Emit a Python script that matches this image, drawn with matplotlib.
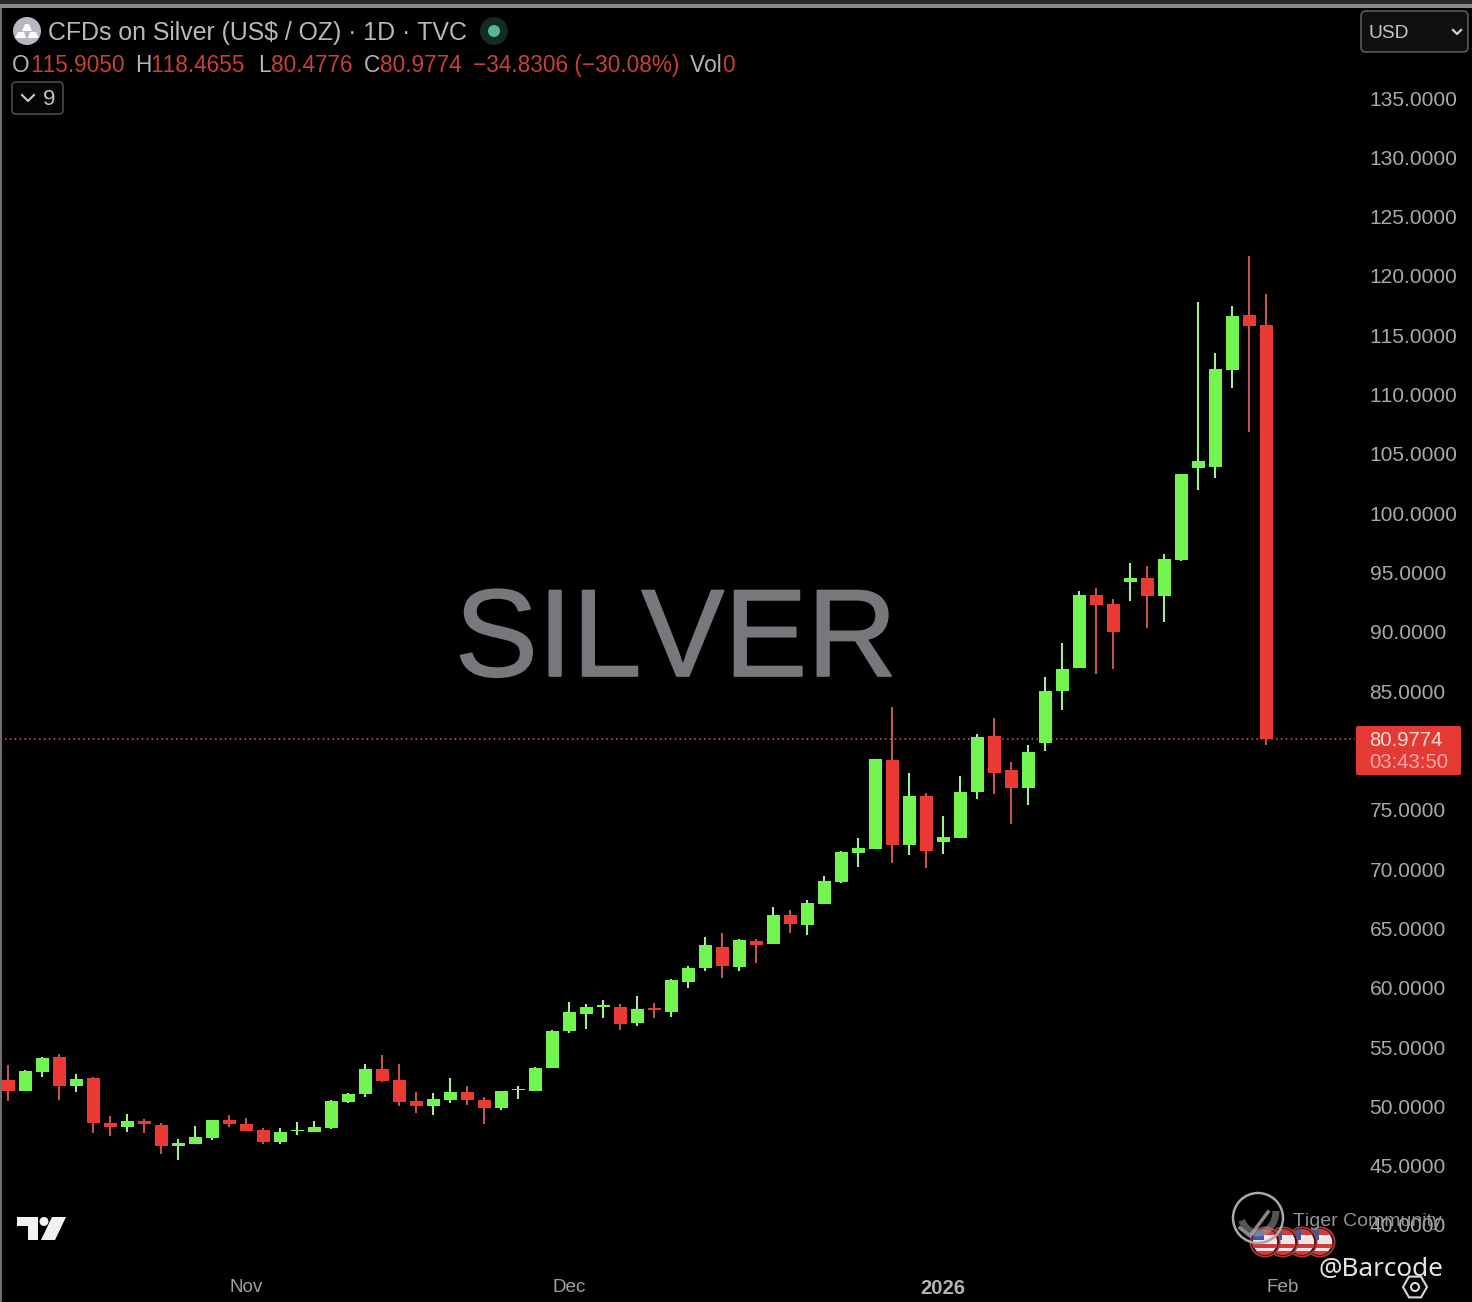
import math
import matplotlib
matplotlib.use("Agg")
import matplotlib.pyplot as plt
import matplotlib.patheffects as pe
from matplotlib.patches import Circle, Rectangle, FancyBboxPatch, Polygon, RegularPolygon, Arc

plt.rcParams['font.family'] = ['Liberation Sans', 'DejaVu Sans']
plt.rcParams['text.kerning_factor'] = 6

opens = [52.22,51.31,52.92,54.18,51.71,52.36,48.62,48.28,48.76,48.40,46.68,46.85,47.35,48.82,48.51,
         47.98,46.99,47.89,47.86,48.14,50.39,51.01,53.17,52.22,50.47,50.02,50.56,51.20,50.50,49.88,
         51.35,51.29,53.23,56.37,57.75,58.34,58.40,57.00,58.26,57.95,60.48,61.68,63.43,61.77,63.96,
         63.66,66.10,65.31,67.08,68.91,71.38,71.71,79.19,72.05,76.16,72.30,72.64,76.52,81.19,78.32,
         76.86,80.65,85.03,86.92,93.08,92.34,94.22,94.53,93.02,96.05,103.81,103.87,112.07,116.71,115.905]
closes = [51.31,52.97,54.10,51.71,52.27,48.57,48.28,48.73,48.48,46.68,46.93,47.39,48.82,48.48,47.94,
          46.99,47.86,48.03,48.25,50.42,51.06,53.14,52.13,50.36,50.02,50.59,51.20,50.50,49.83,51.26,
          51.48,53.23,56.35,57.92,58.37,58.51,56.94,58.20,58.14,60.62,61.63,63.57,61.83,64.02,63.57,
          66.10,65.34,67.11,68.99,71.41,71.75,79.25,72.05,76.16,71.50,72.73,76.49,81.13,78.07,76.86,
          79.84,85.01,86.86,93.13,92.28,90.01,94.53,93.04,96.14,103.28,104.40,112.13,116.62,115.75,80.9774]
highs = [53.48,53.06,54.15,54.41,52.72,52.47,49.18,49.35,48.93,48.57,47.22,48.34,48.84,49.27,48.99,
         48.14,48.17,48.70,48.78,50.53,51.15,53.56,54.32,53.54,51.23,51.09,52.36,51.74,50.76,51.31,
         51.71,53.29,56.43,58.79,58.60,58.93,58.62,59.30,58.68,60.73,61.85,64.24,64.58,64.10,64.10,
         66.83,66.55,67.39,69.41,71.52,72.62,79.30,83.69,78.07,76.38,74.47,77.84,81.38,82.71,79.00,
         80.46,86.16,89.03,93.46,93.72,92.74,95.82,95.57,96.53,103.33,117.78,113.48,117.46,121.68,118.4655]
lows = [50.45,51.29,52.47,50.53,51.23,47.77,47.50,47.86,47.75,45.98,45.47,46.82,47.16,48.28,47.92,
        46.82,46.82,47.58,47.86,48.11,50.25,50.81,52.05,50.02,49.46,49.27,50.30,50.13,48.51,49.69,
        50.61,51.26,53.23,56.15,56.52,57.47,56.43,56.79,57.47,57.50,60.00,61.43,60.79,61.43,62.10,
        63.66,64.58,64.44,67.08,68.80,70.15,71.68,70.48,71.18,70.06,71.24,72.64,75.90,76.30,73.80,
        75.40,79.95,83.41,86.92,86.44,86.84,92.62,90.34,90.80,96.00,101.95,102.99,110.53,106.87,80.4776]

price_ticks = [135, 130, 125, 120, 115, 110, 105, 100, 95, 90, 85, 75, 70, 65, 60, 55, 50, 45, 40]
date_ticks = [14, 33, 55, 75]
date_labels = ['Nov', 'Dec', '2026', 'Feb']
last_close = 80.9774

UP, DOWN = '#72f550', '#ea3a33'
UP_WICK, DOWN_WICK = '#a8eb96', '#c0544e'
W, H = 1472, 1302

fig = plt.figure(figsize=(W/100, H/100), dpi=100, facecolor='black')
# chart pane: x 0..1355 px, y 8..1272 px
ax = fig.add_axes([0, 1-1272/H, 1355/W, (1272-8)/H], facecolor='black')
ax.set_xlim(-8/17, (1355-8)/17)
ax.set_ylim(135-(1272-98)/11.863, 135+(98-8)/11.863)
for s in ax.spines.values():
    s.set_visible(False)

xs = list(range(len(opens)))
for i in xs:
    up = closes[i] >= opens[i]
    ax.vlines(i, lows[i], highs[i], color=UP_WICK if up else DOWN_WICK, lw=1.5, zorder=2)
    lo, hi = min(opens[i], closes[i]), max(opens[i], closes[i])
    ax.bar(i, hi-lo, bottom=lo, width=13/17, color=UP if up else DOWN, zorder=3, linewidth=0)

ax.axhline(last_close, color='#d8604f', lw=1.1, ls=(0, (1, 2.2)), zorder=1)

ax.yaxis.tick_right()
ax.set_yticks(price_ticks, [f'{p:.4f}' for p in price_ticks])
ax.tick_params(axis='y', length=0, pad=10.5, labelsize=15.1, labelcolor='#a9a9ab')
ax.set_xticks(date_ticks, date_labels)
ax.tick_params(axis='x', length=0, pad=5, labelsize=13.6, labelcolor='#a0a0a2')
ax.get_xticklabels()[2].set_fontweight('bold')
ax.get_xticklabels()[2].set_fontsize(14.6)
ax.get_xticklabels()[2].set_color('#b4b4b6')

# overlay in pixel coordinates for the interface furniture
ov = fig.add_axes([0, 0, 1, 1], facecolor='none', zorder=5)
ov.set_xlim(0, W); ov.set_ylim(H, 0); ov.axis('off')

ov.add_patch(Rectangle((0, 0), W, 4, fc='#2b2b2d', lw=0))
ov.add_patch(Rectangle((0, 4), W, 4, fc='#8b8b8d', lw=0))
ov.add_patch(Rectangle((0, 8), 2, H-8, fc='#6f6f72', lw=0))

# header
ov.add_patch(Circle((27, 31), 14, fc='#b9b7c4', lw=0))
ov.add_patch(Polygon([(22, 31), (32, 31), (29, 24), (25, 24)], fc='white', lw=0))
ov.add_patch(Polygon([(15, 38), (26, 38), (24, 32), (18, 32)], fc='white', lw=0))
ov.add_patch(Polygon([(28, 38), (39, 38), (36, 32), (30, 32)], fc='white', lw=0))
ov.text(48, 33, 'CFDs on Silver (US$ / OZ) · 1D · TVC', color='#b9b9bd', fontsize=17.9, va='center', ha='left')
ov.add_patch(Circle((494, 31), 14, fc='#142a25', lw=0))
ov.add_patch(Circle((494, 31), 6, fc='#55b79a', lw=0))

RED, GREY = '#c93f39', '#b4b4b8'
for x, s, c in [(12, 'O', GREY), (30, '115.9050', RED), (135, 'H', GREY), (150, '118.4655', RED),
                (258, 'L', GREY), (271, '80.4776', RED), (364, 'C', GREY), (380, '80.9774', RED),
                (473, '−34.8306 (−30.08%)', RED), (690, 'Vol', GREY), (722, '0', RED)]:
    ov.text(x, 65.5, s, color=c, fontsize=16.3, va='center', ha='left')

ov.add_patch(FancyBboxPatch((14, 84), 47, 28, boxstyle='round,pad=2,rounding_size=4', fc='#050505', ec='#4a4a4c', lw=1.2))
ov.plot([22, 28, 34], [95, 101, 95], color='#c8c8c8', lw=1.5)
ov.text(43, 99.5, '9', color='#c0c0c4', fontsize=16.2, va='center', ha='left')

ov.add_patch(FancyBboxPatch((1363, 13), 103, 37, boxstyle='round,pad=2,rounding_size=5', fc='#101010', ec='#5a5a5c', lw=1.2))
ov.text(1368, 33, 'USD', color='#c6c6c8', fontsize=13.8, va='center', ha='left')
ov.plot([1453, 1457, 1461], [30, 34, 30], color='#d0d0d0', lw=1.6)

# watermark
ov.text(676, 644, 'SILVER', color='#77777c', fontsize=89.5, va='center', ha='center',
        path_effects=[pe.withStroke(linewidth=1.2, foreground='#77777c')])

# last price label
ov.add_patch(FancyBboxPatch((1358, 728), 101, 45, boxstyle='round,pad=2,rounding_size=2', fc='#e53a33', lw=0))
ov.text(1369, 740.5, f'{last_close:.4f}', color='#f8dcd8', fontsize=14.6, va='center', ha='left')
ov.text(1369, 762.5, '03:43:50', color='#f6aaa2', fontsize=14.6, va='center', ha='left')

# TradingView logo
ov.add_patch(Polygon([(17, 1217), (38, 1217), (38, 1240), (28, 1240), (28, 1226), (17, 1226)], fc='#f2f2f2', lw=0))
ov.add_patch(Circle((44, 1221.5), 4.5, fc='#f2f2f2', lw=0))
ov.add_patch(Polygon([(52, 1217), (66, 1217), (55, 1240), (41, 1240)], fc='#f2f2f2', lw=0))

# community mark
for cx in (1320, 1302, 1283, 1265):
    ov.add_patch(Circle((cx, 1242), 15.5, fc='#b03a38', lw=0))
    flag = Circle((cx, 1242), 13, fc='#eee6e6', ec='#2a1212', lw=1.2)
    ov.add_patch(flag)
    for y, h in ((1229, 6), (1244, 4), (1251, 5)):
        st = Rectangle((cx-14, y), 28, h, fc='#cf3c3a', lw=0)
        ov.add_patch(st); st.set_clip_path(flag)
    can = Rectangle((cx-14, 1229), 13, 11, fc='#3d5aa8', lw=0)
    ov.add_patch(can); can.set_clip_path(flag)
ov.add_patch(Circle((1258, 1218), 25, fc='none', ec='#a8a8a8', lw=1.8))
ov.add_patch(Arc((1258, 1211), 36, 44, theta1=0, theta2=150, ec='#a8a8a8', lw=5, alpha=0.5))
ov.plot([1240, 1250, 1268], [1228, 1236, 1212], color='#a8a8a8', lw=2.5, alpha=0.8)
ov.text(1293, 1221.5, 'Tiger Community', color='#929294', fontsize=14, va='center', ha='left')
ov.text(1319, 1269.5, '@Barcode', color='#e4e4e4', fontsize=18.8, va='center', ha='left', family=['Noto Sans', 'DejaVu Sans'])
ov.add_patch(RegularPolygon((1415, 1287), 6, radius=12, orientation=math.pi/6, fc='none', ec='#d8d8d8', lw=1.5))
ov.add_patch(Circle((1415, 1287), 4, fc='none', ec='#d8d8d8', lw=1.5))

fig.savefig('out.png', dpi=100, facecolor='black')
